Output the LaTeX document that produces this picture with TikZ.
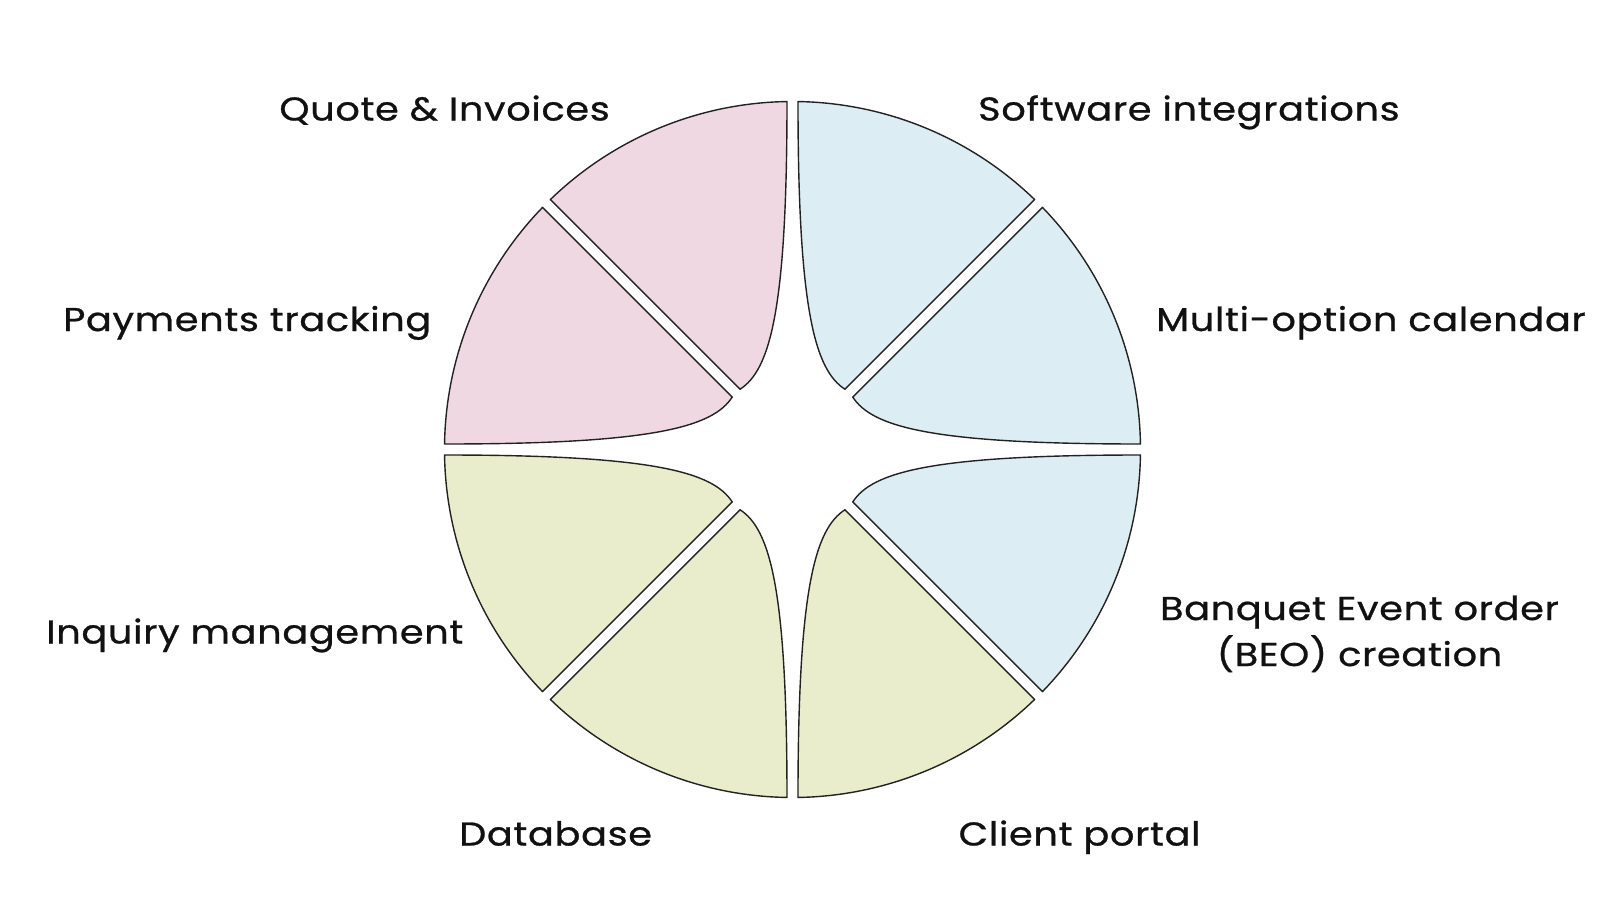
\documentclass[tikz,border=0pt]{standalone}
\usepackage{fontspec}
\setmainfont{Poppins}[FakeStretch=1.16, LetterSpace=2, FakeBold=0.8]
\definecolor{pinkfill}{HTML}{EFD8E1}
\definecolor{bluefill}{HTML}{DCEEF3}
\definecolor{greenfill}{HTML}{E9EDCB}
\definecolor{edge}{HTML}{222222}
\definecolor{ink}{HTML}{111111}
\newcommand\mywedge[2]{\draw[wedgestyle, fill=#1, #2] (52.47,60.25) -- (45.906:348) arc[start angle=45.906, end angle=89.094, radius=348] .. controls (5.5,139.5) and (22.5,79.5) .. (52.47,60.25) -- cycle;}
\begin{document}
\begin{tikzpicture}[x=1pt,y=1pt,
  wedgestyle/.style={draw=edge, line width=1.4pt, line join=round},
  lbl/.style={text=ink, inner sep=0pt, font=\fontsize{33}{40}\selectfont}]
\useasboundingbox (-792.5,-456.5) rectangle (811.5,449.5);
\mywedge{bluefill}{}
\mywedge{bluefill}{cm={0,1,1,0,(0,0)}}
\mywedge{bluefill}{rotate=-90}
\mywedge{greenfill}{rotate=-90, cm={0,1,1,0,(0,0)}}
\mywedge{greenfill}{rotate=180}
\mywedge{greenfill}{rotate=180, cm={0,1,1,0,(0,0)}}
\mywedge{pinkfill}{rotate=90}
\mywedge{pinkfill}{rotate=90, cm={0,1,1,0,(0,0)}}
\node[lbl, anchor=base east] (quote) at (-182.5,329) {Quote \& Invoices};
\node[lbl, anchor=base west] (soft) at (185.5,329) {Software integrations};
\node[lbl, anchor=base west] (pay) at (-729.5,118.5) {Payments tracking};
\node[lbl, anchor=base west] (multi) at (363.5,118.5) {Multi-option calendar};
\node[lbl, anchor=base west] (inq) at (-746.5,-194) {Inquiry management};
\node[lbl, align=center, anchor=base] (beo) at (567,-216.5) {Banquet Event order\\[6pt](BEO) creation};
\node[lbl, anchor=base west] (db) at (-333.5,-396) {Database};
\node[lbl, anchor=base west] (client) at (166,-396) {Client portal};
\end{tikzpicture}
\end{document}
